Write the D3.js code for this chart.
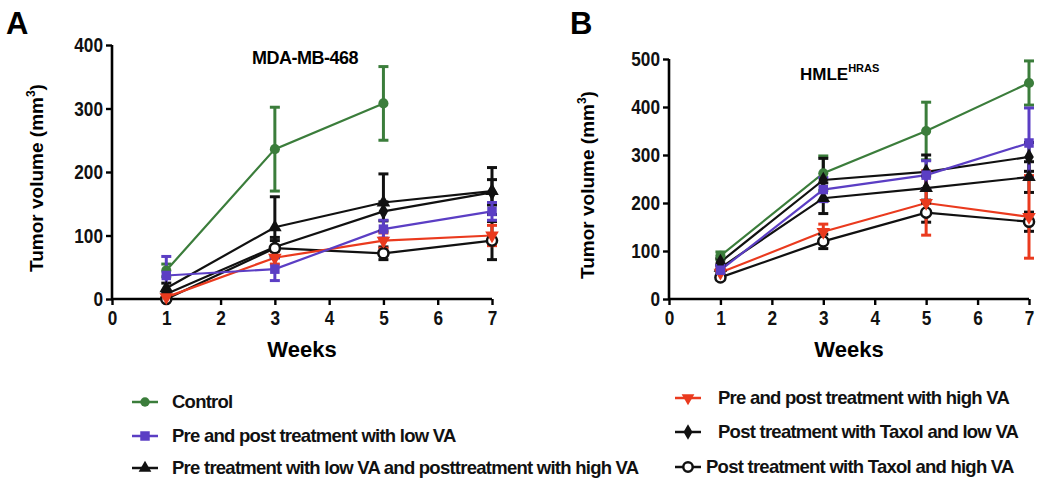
<!DOCTYPE html>
<html><head><meta charset="utf-8">
<script src="https://cdn.jsdelivr.net/npm/d3@7"></script>
<style>
body{margin:0;background:#fff;}
text{font-family:"Liberation Sans",Arial,sans-serif;font-weight:bold;}
.leg{font-family:"Liberation Sans",Arial,sans-serif;font-weight:bold;font-size:18.5px;letter-spacing:-0.75px;}
</style></head>
<body>
<svg id="c" width="1050" height="484"></svg>
<script>
const weeks = [1, 3, 5, 7];
const xTicks = [0, 1, 2, 3, 4, 5, 6, 7];
const yTicksA = [0, 100, 200, 300, 400];
const yTicksB = [0, 100, 200, 300, 400, 500];

const seriesNames = ["Control", "Pre and post treatment with low VA", "Pre treatment with low VA and posttreatment with high VA",
  "Pre and post treatment with high VA", "Post treatment with Taxol and low VA", "Post treatment with Taxol and high VA"];
const seriesColors = ["#3b7d3b", "#5b3ec4", "#111111", "#ea3a1e", "#111111", "#111111"];
const seriesShapes = ["circle", "square", "triangle", "triangleDown", "diamond", "ring"];

// Panel A: MDA-MB-468
const ctrlA = [45, 236, 308];
const ctrlAErr = [10, 66, 58];
const lowA = [37, 47, 110, 138];
const lowAErr = [30, 18, 14, 14];
const triA = [17, 113, 152, 170];
const triAErr = [8, 48, 45, 37];
const highA = [3, 65, 92, 100];
const highAErr = [3, 10, 12, 16];
const taxLowA = [8, 82, 138, 168];
const taxLowAErr = [5, 15, 15, 20];
const taxHighA = [0, 80, 72, 92];
const taxHighAErr = [2, 12, 10, 30];

// Panel B: HMLE HRAS
const ctrlB = [90, 262, 350, 450];
const ctrlBErr = [8, 36, 60, 46];
const lowB = [60, 228, 258, 325];
const lowBErr = [10, 25, 30, 73];
const triB = [65, 210, 231, 254];
const triBErr = [8, 32, 25, 32];
const highB = [55, 140, 200, 171];
const highBErr = [8, 16, 67, 86];
const taxLowB = [77, 248, 265, 296];
const taxLowBErr = [8, 45, 35, 30];
const taxHighB = [45, 120, 180, 161];
const taxHighBErr = [5, 15, 20, 20];

const svg = d3.select("#c");
const sans = "'Liberation Sans',Arial,sans-serif";

function symbolPath(shape, size){
  const m = {circle:d3.symbolCircle, square:d3.symbolSquare, triangle:d3.symbolTriangle,
    triangleDown:d3.symbolTriangle, diamond:d3.symbolDiamond, ring:d3.symbolCircle};
  return d3.symbol().type(m[shape]).size(size)();
}
function drawMarker(g, shape, color, x, y, size){
  const p = g.append("path").attr("d", symbolPath(shape, size))
    .attr("transform", `translate(${x},${y})` + (shape==="triangleDown" ? " rotate(180)" : ""));
  if (shape === "ring") p.attr("fill", "#fff").attr("stroke", color).attr("stroke-width", 2.5);
  else p.attr("fill", color);
}

function panel(cfg){
  const g = svg.append("g");
  const x = d3.scaleLinear().domain([0, 7]).range([cfg.x0, cfg.x1]);
  const y = d3.scaleLinear().domain([0, cfg.ymax]).range([299, cfg.ytop]);
  const xa = g.append("g").attr("transform", "translate(0,299)")
    .call(d3.axisBottom(x).tickValues(xTicks).tickFormat(d3.format("d")).tickSize(6).tickPadding(5));
  const ya = g.append("g").attr("transform", `translate(${cfg.x0},0)`)
    .call(d3.axisLeft(y).tickValues(cfg.yTicks).tickSize(6).tickPadding(3));
  [xa, ya].forEach(a => {
    a.select(".domain").attr("stroke", "#000").attr("stroke-width", 2.6);
    a.selectAll(".tick line").attr("stroke", "#000").attr("stroke-width", 2.4);
    a.selectAll("text").attr("fill", "#111").style("font-size", "21px").style("font-family", sans);
  });
  xa.selectAll(".tick text").attr("transform", "scale(0.82,1)");
  ya.selectAll(".tick text").attr("x", -11).attr("transform", "scale(0.82,1)");
  xa.selectAll(".domain").attr("d", `M${cfg.x0},0H${cfg.x1}`);
  ya.selectAll(".domain").attr("d", `M0,${y(0)}V${cfg.ytop}`);

  cfg.series.forEach(s => {
    const pts = s.vals.map((v, i) => [weeks[i], v, s.err[i]]);
    g.append("path").datum(pts)
      .attr("d", d3.line().x(d => x(d[0])).y(d => y(d[1])))
      .attr("fill", "none").attr("stroke", s.color).attr("stroke-width", 2.2);
  });
  cfg.series.forEach(s => {
    s.vals.forEach((v, i) => {
      const cx = x(weeks[i]);
      const e = s.err[i];
      g.append("line").attr("x1", cx).attr("x2", cx).attr("y1", y(v - e)).attr("y2", y(v + e))
        .attr("stroke", s.color).attr("stroke-width", 3);
      [v - e, v + e].forEach(c => g.append("line").attr("x1", cx - 5).attr("x2", cx + 5)
        .attr("y1", y(c)).attr("y2", y(c)).attr("stroke", s.color).attr("stroke-width", 3));
    });
  });
  cfg.series.forEach(s => {
    s.vals.forEach((v, i) => drawMarker(g, s.shape, s.color, x(weeks[i]), y(v), s.shape==="square"?90:80));
  });

  g.append("text").attr("x", (cfg.x0 + cfg.x1) / 2).attr("y", 357).attr("text-anchor", "middle")
    .style("font-size", "22px").style("font-family", sans).text("Weeks");
  const yl = g.append("text").attr("transform", `translate(${cfg.ylx},${(299 + cfg.ytop) / 2 + 6}) rotate(-90)`)
    .attr("text-anchor", "middle").style("font-size", "19px").style("font-family", sans);
  yl.append("tspan").text("Tumor volume (mm");
  yl.append("tspan").attr("dy", -8).style("font-size", "12px").text("3");
  yl.append("tspan").attr("dy", 8).text(")");
  g.append("text").attr("x", cfg.letterX).attr("y", 34).style("font-size", "31px")
    .style("font-family", sans).text(cfg.letter);
  return g;
}

function mk(vals, err, i){ return {vals, err, color: seriesColors[i], shape: seriesShapes[i]}; }

const gA = panel({x0:112, x1:492, ytop:45, ymax:400, yTicks:yTicksA, ylx:43, letter:"A", letterX:6,
  series:[mk(ctrlA, ctrlAErr, 0), mk(triA, triAErr, 2), mk(taxLowA, taxLowAErr, 4), mk(taxHighA, taxHighAErr, 5),
          mk(highA, highAErr, 3), mk(lowA, lowAErr, 1)]});
gA.append("text").attr("x", 305).attr("y", 64).attr("text-anchor", "middle").style("font-size", "18px")
  .style("font-family", sans).style("letter-spacing", "-0.5px").text("MDA-MB-468");

const gB = panel({x0:669, x1:1029, ytop:59, ymax:500, yTicks:yTicksB, ylx:594, letter:"B", letterX:570,
  series:[mk(ctrlB, ctrlBErr, 0), mk(triB, triBErr, 2), mk(taxLowB, taxLowBErr, 4), mk(taxHighB, taxHighBErr, 5),
          mk(highB, highBErr, 3), mk(lowB, lowBErr, 1)]});
const tB = gB.append("text").attr("x", 800).attr("y", 80).style("font-size", "17px").style("font-family", sans);
tB.append("tspan").text("HMLE");
tB.append("tspan").attr("dy", -8).style("font-size", "11px").text("HRAS");

// Legend
const legPos = [[132, 402], [132, 436], [132, 468], [675, 398], [675, 432], [675, 467]];
const legTextX = [172, 172, 172, 718, 718, 706];
seriesNames.forEach((n, i) => {
  const [lx, ly] = legPos[i];
  const lg = svg.append("g");
  lg.append("line").attr("x1", lx).attr("x2", lx + 26).attr("y1", ly).attr("y2", ly)
    .attr("stroke", seriesColors[i]).attr("stroke-width", 2.5);
  drawMarker(lg, seriesShapes[i], seriesColors[i], lx + 13, ly, seriesShapes[i]==="square"?90:70);
  lg.append("text").attr("class", "leg").attr("x", legTextX[i]).attr("y", ly + 6).attr("fill", "#111").text(n);
});
</script>
</body></html>
